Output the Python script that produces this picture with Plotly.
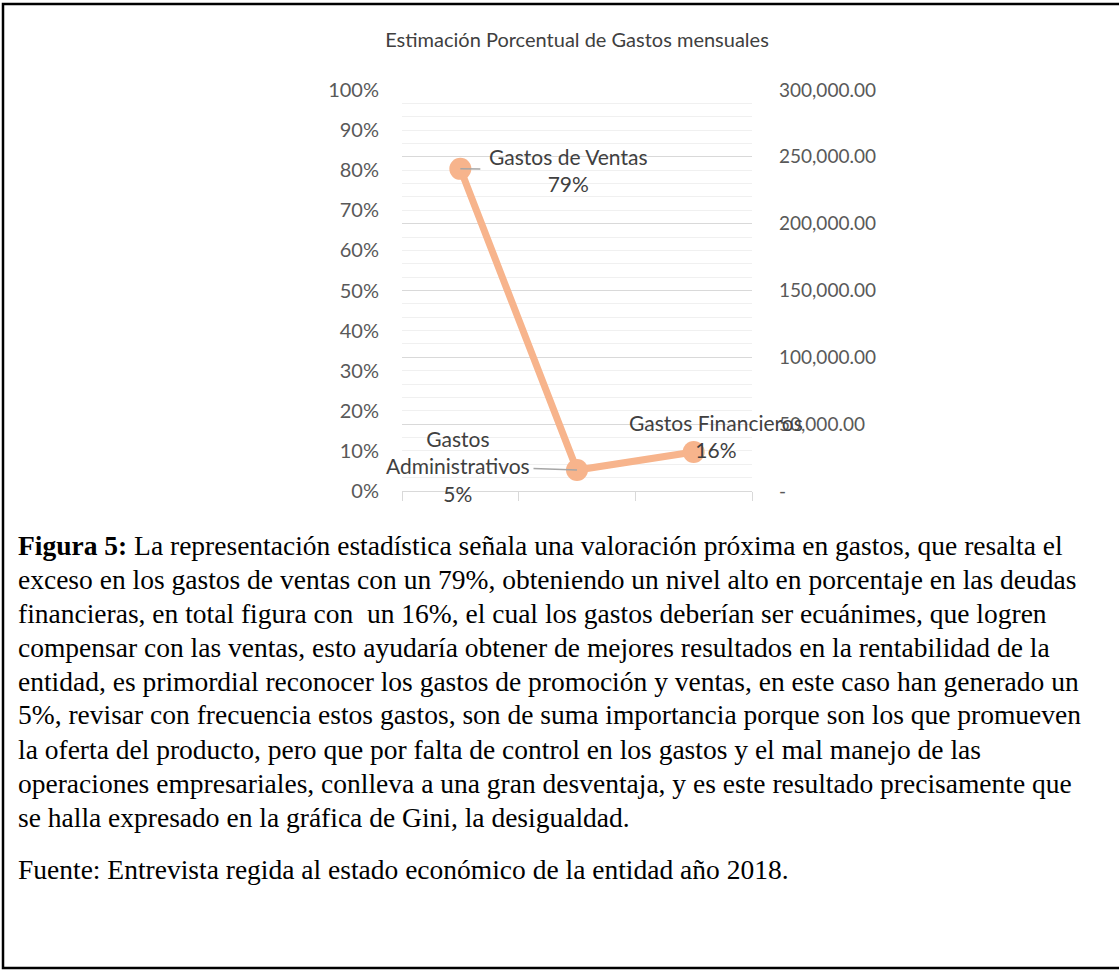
import plotly.graph_objects as go

# --- datos ---
categorias = ["Gastos de Ventas", "Gastos Administrativos", "Gastos Financieros"]
montos = [241000, 15700, 29200]
etiquetas_nombre = ["Gastos de Ventas", "Gastos<br>Administrativos", "Gastos Financieros"]
etiquetas_pct = ["79%", "5%", "16%"]

pct_ticks = [0, 0.1, 0.2, 0.3, 0.4, 0.5, 0.6, 0.7, 0.8, 0.9, 1.0]
monto_ticks = [0, 50000, 100000, 150000, 200000, 250000, 300000]
monto_ticktext = ["-", "50,000.00", "100,000.00", "150,000.00", "200,000.00",
                  "250,000.00", "300,000.00"]

titulo = "Estimación Porcentual de Gastos mensuales"
texto_figura = [
    "<b>Figura 5:</b> La representación estadística señala una valoración próxima en gastos, que resalta el",
    "exceso en los gastos de ventas con un 79%, obteniendo un nivel alto en porcentaje en las deudas",
    "financieras, en total figura con  un 16%, el cual los gastos deberían ser ecuánimes, que logren",
    "compensar con las ventas, esto ayudaría obtener de mejores resultados en la rentabilidad de la",
    "entidad, es primordial reconocer los gastos de promoción y ventas, en este caso han generado un",
    "5%, revisar con frecuencia estos gastos, son de suma importancia porque son los que promueven",
    "la oferta del producto, pero que por falta de control en los gastos y el mal manejo de las",
    "operaciones empresariales, conlleva a una gran desventaja, y es este resultado precisamente que",
    "se halla expresado en la gráfica de Gini, la desigualdad.",
]
fuente = "Fuente: Entrevista regida al estado económico de la entidad año 2018."

# --- geometria (pixeles) ---
W, H = 1119, 970
PL, PR, PT, PB = 402, 752, 90, 491


def px(x):
    return (x - PL) / (PR - PL)


def py(y):
    return (PB - y) / (PB - PT)


SANS = "Lato, Open Sans, sans-serif"
SERIF = "Liberation Serif, Times New Roman, serif"
GRIS = "#595959"
TXT = "#404040"

fig = go.Figure()
# traza fantasma para el eje primario (%)
fig.add_trace(go.Scatter(x=categorias, y=[None] * 3, yaxis="y", showlegend=False,
                         hoverinfo="skip"))
fig.add_trace(go.Scatter(
    x=categorias, y=montos, yaxis="y2", mode="lines+markers",
    line=dict(color="#F7B48C", width=7),
    marker=dict(size=22, color="#F7B48C"),
    showlegend=False))

# etiquetas de datos
fig.add_annotation(x=categorias[0], y=montos[0], yref="y2",
                   text=f"{etiquetas_nombre[0]}<br>{etiquetas_pct[0]}",
                   showarrow=True, arrowhead=0, arrowcolor="#A6A6A6", arrowwidth=1.5,
                   ax=108, ay=1, borderpad=8,
                   font=dict(family=SANS, size=21, color=TXT))
fig.add_annotation(x=categorias[1], y=montos[1], yref="y2",
                   text=f"{etiquetas_nombre[1]}<br>{etiquetas_pct[1]}",
                   showarrow=True, arrowhead=0, arrowcolor="#A6A6A6", arrowwidth=1.5,
                   ax=-119, ay=-4, borderpad=3,
                   font=dict(family=SANS, size=21, color=TXT))
fig.add_annotation(x=categorias[2], y=montos[2], yref="y2",
                   text=f"{etiquetas_nombre[2]}<br>{etiquetas_pct[2]}",
                   showarrow=False, xshift=22, yshift=16,
                   font=dict(family=SANS, size=21, color=TXT))

# texto de la figura
for i, linea in enumerate(texto_figura):
    fig.add_annotation(xref="paper", yref="paper", x=px(16), y=py(545 + 34 * i),
                       xanchor="left", yanchor="middle", showarrow=False, align="left",
                       text=linea, font=dict(family=SERIF, size=27.5, color="black"))
fig.add_annotation(xref="paper", yref="paper", x=px(16), y=py(869),
                   xanchor="left", yanchor="middle", showarrow=False, align="left",
                   text=fuente, font=dict(family=SERIF, size=27.5, color="black"))

# marco
fig.add_shape(type="rect", xref="paper", yref="paper",
              x0=px(3), x1=px(1130), y0=py(4), y1=py(968),
              line=dict(color="black", width=2.5), layer="above")

fig.update_layout(
    width=W, height=H,
    margin=dict(l=PL, r=W - PR, t=PT, b=H - PB, pad=0),
    paper_bgcolor="white", plot_bgcolor="white",
    title=dict(text=titulo, x=577 / W, xanchor="center", xref="container",
               y=1 - 40 / H, yref="container", yanchor="middle",
               font=dict(family=SANS, size=20, color=TXT)),
    xaxis=dict(type="category", range=[-0.5, 2.5], showticklabels=False, showgrid=False,
               tickson="boundaries", ticks="outside", ticklen=9,
               tickcolor="#D9D9D9", showline=True, linecolor="#D9D9D9",
               linewidth=1, zeroline=False),
    yaxis=dict(range=[0, 1], tickvals=pct_ticks, tickformat=".0%", showgrid=False,
               zeroline=False, showline=False, ticks="", ticklabelstandoff=22,
               tickfont=dict(family=SANS, size=20, color=GRIS)),
    yaxis2=dict(range=[0, 300000], overlaying="y", side="right",
                tickvals=monto_ticks, ticktext=monto_ticktext,
                showgrid=True, gridcolor="#D9D9D9", gridwidth=1,
                minor=dict(dtick=10000, showgrid=True, gridcolor="#F0F0F0", gridwidth=1),
                zeroline=False, showline=False, ticks="", ticklabelstandoff=26,
                tickfont=dict(family=SANS, size=19, color=GRIS)),
)

fig.write_html("out.html", config={"displayModeBar": False},
               post_script="document.body.style.margin='0';document.body.style.overflow='hidden';")
